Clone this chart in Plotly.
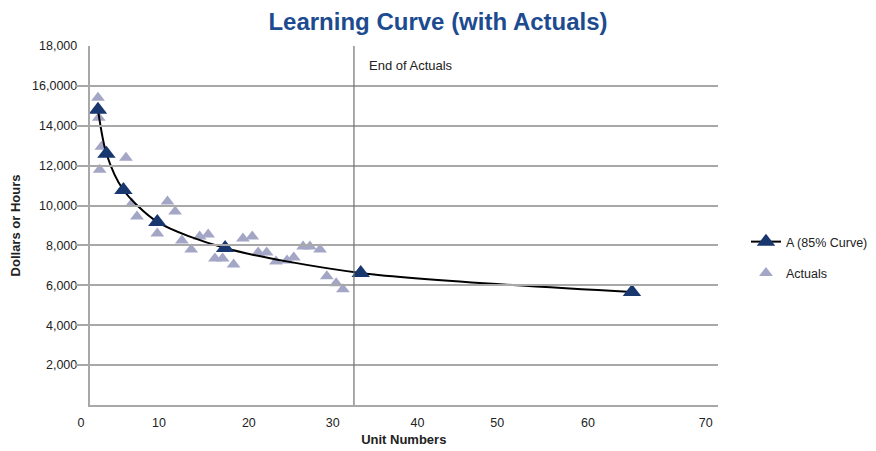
import plotly.graph_objects as go

# ---- data ----
curve_units = [1, 2, 4, 8, 16, 32, 64]
curve_values = [14800, 12600, 10780, 9180, 7870, 6620, 5670]

actual_units = [1.0, 1.1, 1.4, 1.2, 4.3, 5.0, 5.6, 8.0, 9.2, 10.1, 10.9, 12.0, 13.0, 14.0, 14.8,
                15.7, 17.0, 18.1, 19.2, 19.9, 20.9, 22.0, 23.3, 24.1, 25.2, 26.0, 27.2, 28.0, 29.1, 29.9]
actual_values = [15400, 14400, 12950, 11800, 12400, 10100, 9450, 8600, 10200, 9700, 8250, 7800, 8450, 8550, 7350,
                 7350, 7050, 8350, 8450, 7650, 7650, 7200, 7250, 7400, 7950, 7950, 7800, 6450, 6100, 5800]

end_of_actuals = 31.2

y_tickvals = [2000, 4000, 6000, 8000, 10000, 12000, 14000, 16000, 18000]
y_ticktext = ["2,000", "4,000", "6,000", "8,000", "10,000", "12,000", "14,000", "16,0000", "18,000"]

x_tick_positions = [-1.0, 8.2, 18.8, 28.7, 38.7, 48.1, 58.8, 72.7]
x_tick_labels = ["0", "10", "20", "30", "40", "50", "60", "70"]

x_range = [0, 74.15]
label_range = [-1.71, 74.15]

FONT = "Liberation Sans, Arial, Helvetica, sans-serif"
NAVY = "#17376e"
LAV = "#a4a6c6"
GRID = "#a8a8a8"
TXT = "#222222"

fig = go.Figure()

# carrier trace for the label axis (added first so it sits underneath)
fig.add_trace(go.Scatter(x=[], y=[], xaxis="x2", yaxis="y", showlegend=False, hoverinfo="skip"))

fig.add_trace(go.Scatter(
    x=actual_units, y=actual_values, mode="markers", name="Actuals",
    marker=dict(symbol="triangle-up", size=12, color=LAV),
    legendgroup="b", legendrank=2,
))
fig.add_trace(go.Scatter(
    x=curve_units, y=curve_values, mode="lines+markers", name="A (85% Curve)",
    line=dict(color="black", width=2, shape="spline", smoothing=0.8),
    marker=dict(symbol="triangle-up", size=16, color=NAVY),
    legendgroup="a", legendrank=1,
))

# page body adds an 8px offset, so the figure is sized to the remaining viewport
W, H = 868, 443
left_px, right_px, top_px, bottom_px = 67, 710, 38, 397
plot_w = right_px - left_px
plot_h = bottom_px - top_px

fig.update_layout(
    width=W, height=H,
    margin=dict(l=left_px, r=W - right_px, t=top_px, b=H - bottom_px, autoexpand=False),
    paper_bgcolor="white", plot_bgcolor="rgba(0,0,0,0)",
    font=dict(family=FONT, size=12, color=TXT),
    title=dict(text="<b>Learning Curve (with Actuals)</b>", x=430 / W, xref="container", xanchor="center",
               y=1 - 14 / H, yref="container", yanchor="middle",
               font=dict(family=FONT, size=24, color="#1d4b8f")),
    xaxis=dict(domain=[(81.5 - left_px) / plot_w, 1], range=x_range, automargin=False,
               showgrid=False, zeroline=False, showline=True, linecolor=GRID, linewidth=1.5,
               showticklabels=False, ticks="",
               title=dict(text="<b>Unit Numbers</b>", standoff=29, font=dict(family=FONT, size=13, color=TXT))),
    xaxis2=dict(domain=[0, 1], anchor="y", range=label_range, showgrid=False, zeroline=False, automargin=False,
                showline=False, ticks="", tickvals=x_tick_positions, ticktext=x_tick_labels,
                ticklabelstandoff=8, tickfont=dict(family=FONT, size=12.5, color=TXT)),
    yaxis=dict(anchor="x", range=[0, 18000], tickvals=y_tickvals, ticktext=y_ticktext, automargin=False,
               showgrid=True, gridcolor=GRID, gridwidth=1.5, zeroline=False,
               showline=True, linecolor=GRID, linewidth=1.5, ticks="", ticklabelstandoff=8,
               tickfont=dict(family=FONT, size=12.5, color=TXT),
               title=dict(text="<b>Dollars or Hours</b>", standoff=9, font=dict(family=FONT, size=13, color=TXT))),
    legend=dict(x=(738 - left_px) / plot_w, xanchor="left", y=(bottom_px - 219) / plot_h, yanchor="top",
                traceorder="grouped", tracegroupgap=12, font=dict(family=FONT, size=12.5, color=TXT),
                bgcolor="rgba(0,0,0,0)"),
    shapes=[dict(type="line", xref="x", yref="paper", x0=end_of_actuals, x1=end_of_actuals, y0=0, y1=1,
                 line=dict(color="#707070", width=1.2))],
    annotations=[dict(text="End of Actuals", x=end_of_actuals, xref="x", y=17000, yref="y",
                      xanchor="left", yanchor="middle", xshift=13, showarrow=False,
                      font=dict(family=FONT, size=13, color=TXT))],
    showlegend=True,
)

fig.write_html("out.html")
